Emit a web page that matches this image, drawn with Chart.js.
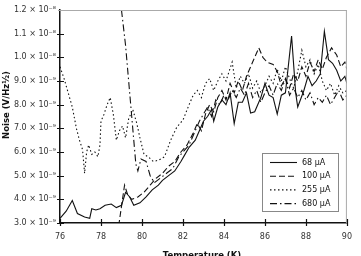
<!DOCTYPE html>
<html><head><meta charset="utf-8">
<script src="https://cdn.jsdelivr.net/npm/chart.js@4.4.1/dist/chart.umd.min.js"></script>
<style>html,body{margin:0;padding:0;background:#fff}#wrap{width:361px;height:256px;position:relative;overflow:hidden}</style>
</head><body><div id="wrap"><canvas id="c" width="361" height="256"></canvas></div>
<script>
// Noise values in units of 1e-9 V/Hz^1/2
const temp68  = [76.0,76.3,76.6,76.85,77.2,77.45,77.55,77.75,77.95,78.2,78.5,78.75,79.0,79.2,79.4,79.6,79.9,80.2,80.5,80.8,81.0,81.3,81.6,81.9,82.1,82.3,82.6,82.8,83.0,83.2,83.4,83.5,83.7,83.9,84.1,84.3,84.5,84.7,84.9,85.1,85.3,85.5,85.8,86.0,86.2,86.4,86.6,86.8,87.0,87.3,87.5,87.6,87.9,88.1,88.3,88.5,88.7,88.9,89.1,89.3,89.5,89.7,89.9,90.0];
const noise68 = [3.2,3.5,3.95,3.4,3.25,3.2,3.6,3.55,3.6,3.75,3.8,3.65,3.75,4.3,4.1,3.75,3.85,4.1,4.4,4.6,4.8,5.0,5.2,5.6,5.9,6.2,6.5,6.9,7.3,7.5,7.8,7.3,7.9,8.2,8.0,8.5,7.2,8.1,8.1,8.5,7.65,7.7,8.3,8.9,8.4,8.3,7.6,8.4,8.5,10.9,8.5,7.9,8.6,9.2,8.8,9.0,9.3,11.1,9.9,9.75,9.45,9.0,9.2,8.9];

const temp100  = [78.8,79.15,79.3,79.5,79.8,80.1,80.4,80.7,81.0,81.3,81.6,81.9,82.2,82.5,82.7,82.9,83.1,83.3,83.5,83.7,83.9,84.1,84.3,84.5,84.7,84.9,85.1,85.4,85.7,85.9,86.1,86.4,86.6,86.8,87.0,87.2,87.4,87.6,87.8,88.0,88.2,88.4,88.6,88.8,89.0,89.25,89.5,89.7,89.9,90.0];
const noise100 = [2.5,4.6,4.2,4.0,4.1,4.3,4.6,4.9,5.1,5.4,5.6,6.0,6.3,6.8,7.2,6.9,7.6,8.0,7.7,8.3,8.6,8.2,8.9,8.5,9.0,8.6,9.2,9.8,10.4,10.0,9.8,9.7,9.4,8.8,9.1,8.7,9.3,9.0,9.6,9.2,9.8,9.4,9.9,9.5,10.0,10.4,10.1,9.6,9.8,9.5];

const temp255  = [76.0,76.2,76.4,76.6,76.8,76.95,77.1,77.2,77.3,77.4,77.55,77.7,77.85,77.95,78.0,78.15,78.3,78.45,78.6,78.75,78.9,79.05,79.2,79.35,79.55,79.75,79.9,80.1,80.3,80.55,80.8,81.1,81.4,81.7,82.0,82.3,82.5,82.7,82.9,83.1,83.3,83.5,83.7,83.9,84.1,84.4,84.6,84.8,85.0,85.2,85.4,85.6,85.8,86.0,86.2,86.4,86.6,86.8,87.0,87.2,87.4,87.6,87.8,88.0,88.2,88.4,88.6,88.8,89.0,89.2,89.4,89.6,89.8,90.0];
const noise255 = [9.6,9.1,8.5,7.9,7.0,6.5,6.1,5.1,6.0,6.3,5.9,6.0,5.8,6.3,7.3,7.6,8.0,8.3,7.6,6.5,6.9,7.1,6.6,7.4,7.8,7.2,6.6,5.9,5.8,5.6,5.65,5.8,6.5,7.05,7.35,8.0,8.4,8.6,8.3,8.9,9.1,8.6,9.0,9.3,9.0,9.8,8.7,9.2,8.9,9.3,8.7,9.0,8.5,8.8,9.2,8.9,9.5,9.0,9.6,9.1,8.7,9.4,10.3,9.6,9.9,9.3,9.7,9.0,8.6,8.9,8.4,8.8,8.5,8.6];

const temp680  = [79.0,79.2,79.4,79.55,79.7,79.8,79.95,80.2,80.4,80.6,80.9,81.2,81.5,81.8,82.0,82.3,82.6,82.8,83.0,83.2,83.4,83.6,83.8,84.0,84.2,84.4,84.6,84.8,85.0,85.2,85.4,85.6,85.8,86.0,86.2,86.4,86.6,86.8,87.0,87.2,87.4,87.6,87.8,88.0,88.2,88.4,88.6,88.8,89.0,89.2,89.4,89.6,89.8,90.0];
const noise680 = [12.0,10.5,8.5,7.0,5.5,5.2,5.7,5.6,5.0,4.7,4.9,5.1,5.3,5.8,6.0,6.3,6.9,7.3,7.6,7.9,7.5,8.2,8.0,8.4,8.2,8.6,8.3,8.7,8.4,8.9,8.3,8.6,8.1,8.5,8.8,8.4,8.9,8.6,9.1,8.4,8.7,8.3,8.6,8.2,8.5,8.0,8.3,8.1,8.4,8.0,8.3,8.6,8.2,8.4];

const seriesLabels = ["68 µA","100 µA","255 µA","680 µA"];
const xTicks = [76,78,80,82,84,86,88,90];
const yTickValues = [3,4,5,6,7,8,9,10,11,12];
const yTickLabels = ["3.0 × 10⁻⁹","4.0 × 10⁻⁹","5.0 × 10⁻⁹","6.0 × 10⁻⁹","7.0 × 10⁻⁹","8.0 × 10⁻⁹","9.0 × 10⁻⁹","1.0 × 10⁻⁸","1.1 × 10⁻⁸","1.2 × 10⁻⁸"];
const xTitle = "Temperature (K)";
const yTitle = "Noise (V/Hz½)";

const FONT = "'DejaVu Sans', sans-serif";
const TFONT = "'DejaVu Sans', sans-serif";
const zip = (xs, ys) => xs.map((x, i) => ({x, y: ys[i]}));
const dashes = [[], [6,3], [1.5,2.5], [7,3,1.5,3]];

const decor = {
  id: 'decor',
  afterDraw(chart) {
    const {ctx, chartArea: a, scales: {x, y}} = chart;
    ctx.save();
    // top and right frame (light grey)
    ctx.strokeStyle = '#aaa'; ctx.lineWidth = 1;
    ctx.beginPath();
    ctx.moveTo(a.left - 2, a.top + 0.5); ctx.lineTo(a.right, a.top + 0.5);
    ctx.moveTo(a.right - 0.5, a.top); ctx.lineTo(a.right - 0.5, a.bottom);
    ctx.stroke();
    // crossing tick marks
    ctx.strokeStyle = '#111'; ctx.lineWidth = 1.2;
    ctx.beginPath();
    yTickValues.forEach(v => {
      if (v === 12) return;
      const py = Math.round(y.getPixelForValue(v)) + 0.5;
      ctx.moveTo(a.left - 3, py); ctx.lineTo(a.left + 4, py);
    });
    xTicks.forEach(v => {
      const px = Math.round(x.getPixelForValue(v)) + 0.5;
      ctx.moveTo(px, a.bottom - 4); ctx.lineTo(px, a.bottom + 3);
    });
    ctx.stroke();
    // axis titles
    ctx.fillStyle = '#111';
    ctx.font = "bold 8.5px " + TFONT;
    ctx.textAlign = 'center'; ctx.textBaseline = 'middle';
    ctx.fillText(xTitle, 202, 256);
    ctx.save();
    ctx.translate(7, 105); ctx.rotate(-Math.PI / 2);
    ctx.fillText(yTitle, 0, 0);
    ctx.restore();
    // legend
    const bx = 262.5, by = 153.5, bw = 76, bh = 58;
    ctx.fillStyle = '#fff'; ctx.fillRect(bx, by, bw, bh);
    ctx.strokeStyle = '#888'; ctx.lineWidth = 1; ctx.strokeRect(bx, by, bw, bh);
    ctx.font = "8px " + FONT; ctx.textAlign = 'left'; ctx.fillStyle = '#111';
    chart.data.datasets.forEach((ds, i) => {
      const ly = 162.5 + i * 13.7;
      ctx.strokeStyle = '#111'; ctx.lineWidth = 1.1;
      ctx.setLineDash(ds.borderDash || []);
      ctx.beginPath(); ctx.moveTo(270, ly); ctx.lineTo(297, ly); ctx.stroke();
      ctx.setLineDash([]);
      ctx.fillText(ds.label, 302, ly);
    });
    ctx.restore();
  }
};

new Chart(document.getElementById('c'), {
  type: 'line',
  data: {
    datasets: [
      {label: seriesLabels[0], data: zip(temp68, noise68)},
      {label: seriesLabels[1], data: zip(temp100, noise100)},
      {label: seriesLabels[2], data: zip(temp255, noise255)},
      {label: seriesLabels[3], data: zip(temp680, noise680)}
    ].map((d, i) => Object.assign(d, {
      borderColor: '#111', borderWidth: 1.1, borderDash: dashes[i],
      pointRadius: 0, tension: 0, fill: false
    }))
  },
  options: {
    responsive: false, animation: false, devicePixelRatio: 1,
    layout: {padding: {left: 0, top: 10, right: 8, bottom: 0}},
    plugins: {legend: {display: false}, tooltip: {enabled: false}},
    scales: {
      x: {
        type: 'linear', min: 76, max: 90,
        afterFit: s => { s.height = 33; },
        afterBuildTicks: s => { s.ticks = xTicks.map(v => ({value: v})); },
        grid: {display: false, drawTicks: false},
        border: {display: true, color: '#111', width: 1.5},
        ticks: {padding: 9, color: '#333', font: {family: FONT, size: 8}, maxRotation: 0}
      },
      y: {
        type: 'linear', min: 3, max: 12,
        afterFit: s => { s.width = 60; },
        afterBuildTicks: s => { s.ticks = yTickValues.map(v => ({value: v})); },
        grid: {display: false, drawTicks: false},
        border: {display: true, color: '#111', width: 1.5},
        ticks: {padding: 4, color: '#333', font: {family: FONT, size: 8},
          callback: (v) => yTickLabels[yTickValues.indexOf(v)]}
      }
    }
  },
  plugins: [decor]
});
</script>
</body></html>
